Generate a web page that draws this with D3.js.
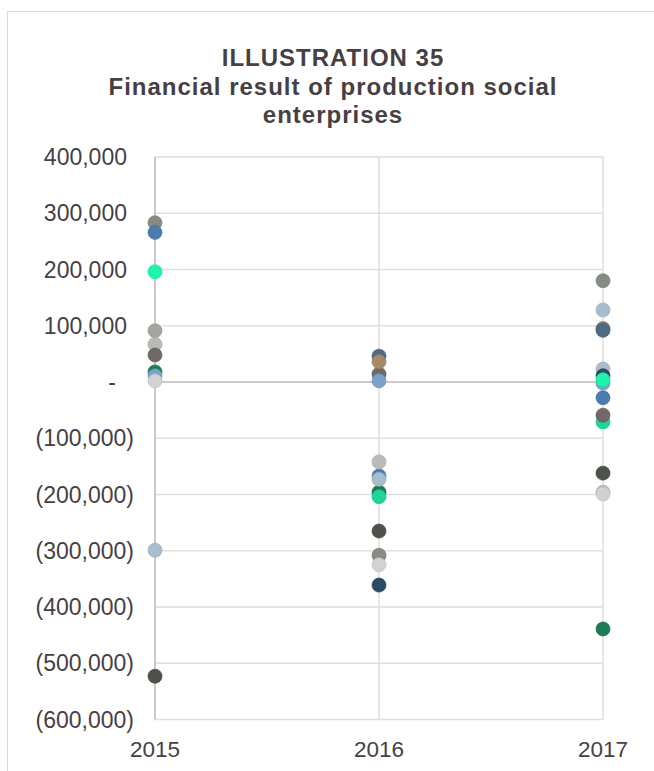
<!DOCTYPE html>
<html>
<head>
<meta charset="utf-8">
<script src="https://cdn.jsdelivr.net/npm/d3@7"></script>
<style>
  html, body { margin: 0; padding: 0; background: #fff; }
  svg { display: block; }
</style>
</head>
<body>
<svg id="chart" width="654" height="771"></svg>
<script>
// ---- data ----
const titleLines = ["ILLUSTRATION 35", "Financial result of production social", "enterprises"];
const years = [2015, 2016, 2017];
const yTicks = [400000, 300000, 200000, 100000, 0, -100000, -200000, -300000, -400000, -500000, -600000];
// series listed in drawing order (later ones drawn on top)
const seriesNames = ["E1","E2","E3","E5","E6","E8","E15","E7","E9","E10","E11","E17","E12","E13","E16","E14","E4"];
const seriesColors = ["#4D524B","#878C83","#4A7DAE","#A3A69F","#BCBAB7","#1A7B55","#21D49B","#6F6967","#7AA3CC","#D2D2CF","#A9BECC","#94826A","#4F6B84","#A68B69","#ABBDC9","#2D4A67","#1EF5AA"];
const seriesValues = [
  [-523000, -265000, -162000],
  [ 283000, -308000,  180000],
  [ 266000, -167000,  -28000],
  [  91000,    null,    null],
  [  67000, -142000, -196000],
  [  18000, -196000, -439000],
  [   null, -204000,  -71000],
  [  48000,   14000,  -59000],
  [  11000,    2000,   -2000],
  [   2000, -325000, -199000],
  [-299000, -173000,  128000],
  [   null,    null,   95000],
  [   null,   46000,   92000],
  [   null,   36000,    null],
  [   null,    null,   23000],
  [   null, -361000,   11000],
  [ 196000,    null,    4000]
];

// ---- layout ----
const svg = d3.select("#chart");
const x = d3.scaleLinear().domain([2015, 2017]).range([155, 603]);
const y = d3.scaleLinear().domain([-600000, 400000]).range([719.5, 157]);
const textColor = "#473F43";
const font = "'Liberation Sans', Arial, sans-serif";

// outer border
svg.append("rect").attr("x", 7.5).attr("y", 11.5).attr("width", 700).attr("height", 800)
  .attr("fill", "none").attr("stroke", "#D9D9D9").attr("stroke-width", 1);

// title
const title = svg.append("text").attr("text-anchor", "middle")
  .attr("font-family", font).attr("font-weight", "bold").attr("font-size", 24)
  .attr("letter-spacing", 1).attr("fill", textColor);
const titleBase = [66, 95, 123];
titleLines.forEach((t, i) => {
  title.append("tspan").attr("x", 333).attr("y", titleBase[i]).text(t);
});

// horizontal gridlines
svg.append("g").selectAll("line").data(yTicks.filter(d => d !== 0)).join("line")
  .attr("x1", x(2015)).attr("x2", x(2017))
  .attr("y1", d => y(d)).attr("y2", d => y(d))
  .attr("stroke", "#E2DDDF").attr("stroke-width", 1.5);

// vertical gridlines
svg.append("g").selectAll("line").data(years.slice(1)).join("line")
  .attr("x1", d => x(d)).attr("x2", d => x(d))
  .attr("y1", y(400000)).attr("y2", y(-600000))
  .attr("stroke", "#E2DDDF").attr("stroke-width", 1.5);

// axis lines
svg.append("line").attr("x1", x(2015)).attr("x2", x(2017)).attr("y1", y(0)).attr("y2", y(0))
  .attr("stroke", "#C2B4BA").attr("stroke-width", 1.5);
svg.append("line").attr("x1", x(2015)).attr("x2", x(2015)).attr("y1", y(400000)).attr("y2", y(-600000))
  .attr("stroke", "#C2B4BA").attr("stroke-width", 1.5);

// y tick labels (accounting format)
const fmt = d3.format(",");
const yLab = svg.append("g").attr("font-family", font).attr("font-size", 23).attr("fill", textColor);
yTicks.forEach(v => {
  let label, xe;
  if (v === 0) { label = "-"; xe = 116; }
  else if (v < 0) { label = "(" + fmt(-v) + ")"; xe = 134; }
  else { label = fmt(v); xe = 127; }
  yLab.append("text").attr("x", xe).attr("y", y(v)).attr("dy", "0.35em")
    .attr("text-anchor", "end").text(label);
});

// x tick labels
svg.append("g").attr("font-family", font).attr("font-size", 22.5).attr("fill", textColor)
  .selectAll("text").data(years).join("text")
  .attr("x", d => x(d)).attr("y", 757).attr("text-anchor", "middle").text(d => d);

// points
const pts = [];
seriesValues.forEach((vals, si) => {
  vals.forEach((v, yi) => { if (v !== null) pts.push({ s: si, year: years[yi], v }); });
});
svg.append("g").selectAll("circle").data(pts).join("circle")
  .attr("cx", d => x(d.year)).attr("cy", d => y(d.v)).attr("r", 7)
  .attr("fill", d => seriesColors[d.s])
  .attr("stroke", d => d3.color(seriesColors[d.s]).darker(0.25))
  .attr("stroke-width", 0.75);
</script>
</body>
</html>
